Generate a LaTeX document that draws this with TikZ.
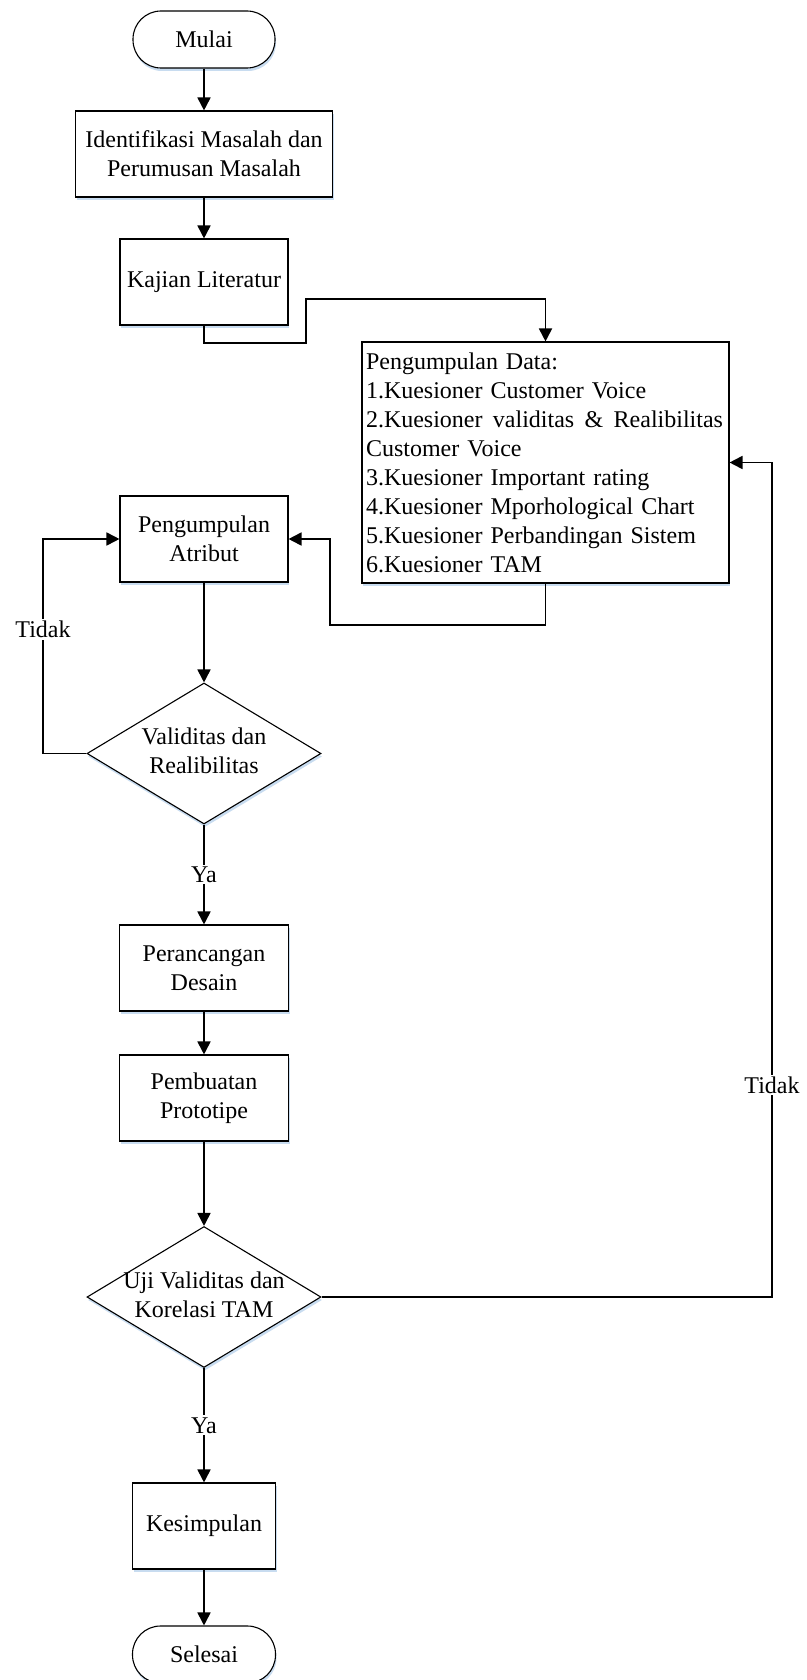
\documentclass[tikz,border=0pt]{standalone}
\usepackage{fontspec}
\setmainfont{Liberation Serif}
\usetikzlibrary{arrows.meta,shapes.geometric,shadows}
\definecolor{shadowblue}{RGB}{200,220,240}
\begin{document}
\begin{tikzpicture}[x=1pt,y=-1pt,
  font=\fontsize{24}{29}\selectfont,
  shad/.style={drop shadow={shadow xshift=1pt,shadow yshift=-3pt,fill=shadowblue,opacity=1}},
  box/.style={draw,fill=white,line width=1.1pt,minimum height=86pt,align=center,inner sep=2pt,shad},
  term/.style={draw,fill=white,line width=1.1pt,rounded corners=28pt,minimum width=142pt,minimum height=57pt,shad},
  dec/.style={diamond,draw,fill=white,line width=1.1pt,minimum width=234pt,minimum height=141pt,inner sep=0pt,shad},
  arr/.style={line width=1.8pt,-{Triangle[length=13pt,width=13pt]}},
  lbl/.style={fill=white,inner sep=2pt}]
\clip (0,0) rectangle (806,1680);
\fill[white] (0,0) rectangle (806,1680);

\node[term] (mulai) at (204,39.5) {Mulai};
\node[box,minimum width=257pt] (ident) at (204,154) {Identifikasi Masalah dan\\Perumusan Masalah};
\node[box,minimum width=168pt] (kaj) at (204,282) {Kajian Literatur};
\node[box,minimum width=367pt,minimum height=241pt,text width=359pt,align=left,inner sep=4pt] (data) at (545.5,462.5)
  {Pengumpulan Data:\\
   1.Kuesioner Customer Voice\\
   \makebox[357pt][l]{2.Kuesioner\hfill validitas\hfill\&\hfill Realibilitas}\\
   Customer Voice\\
   3.Kuesioner Important rating\\
   4.Kuesioner Mporhological Chart\\
   5.Kuesioner Perbandingan Sistem\\
   6.Kuesioner TAM};
\node[box,minimum width=168pt] (atr) at (204,539) {Pengumpulan\\Atribut};
\node[dec] (d1) at (204,753.5) {\makebox[0pt]{\begin{tabular}{@{}c@{}}Validitas dan\\Realibilitas\end{tabular}}};
\node[box,minimum width=169pt] (per) at (204,968) {Perancangan\\Desain};
\node[box,minimum width=169pt] (pem) at (204,1098) {Pembuatan\\Prototipe};
\node[dec] (d2) at (204,1297) {\makebox[0pt]{\begin{tabular}{@{}c@{}}Uji Validitas dan\\Korelasi TAM\end{tabular}}};
\node[box,minimum width=143pt] (kes) at (204,1526) {Kesimpulan};
\node[term,minimum width=143pt] (sel) at (204,1654.5) {Selesai};

\draw[arr] (mulai) -- (ident);
\draw[arr] (ident) -- (kaj);
\draw[arr] (kaj.south) -- (204,343) -- (306,343) -- (306,299) -- (545.5,299) -- (data.north);
\draw[arr] (data.south) -- (545.5,625) -- (330,625) -- (330,539) -- (atr.east);
\draw[arr] (atr) -- (d1);
\draw[arr] (d1.west) -- (43,753.5) -- node[lbl,pos=0.58]{Tidak} (43,539) -- (atr.west);
\draw[arr] (d1.south) -- node[lbl]{Ya} (per.north);
\draw[arr] (per) -- (pem);
\draw[arr] (pem) -- (d2);
\draw[arr] (d2.east) -- (772,1297) -- node[lbl,pos=0.254]{Tidak} (772,462.5) -- (data.east);
\draw[arr] (d2.south) -- node[lbl]{Ya} (kes.north);
\draw[arr] (kes) -- (sel);
\end{tikzpicture}
\end{document}
